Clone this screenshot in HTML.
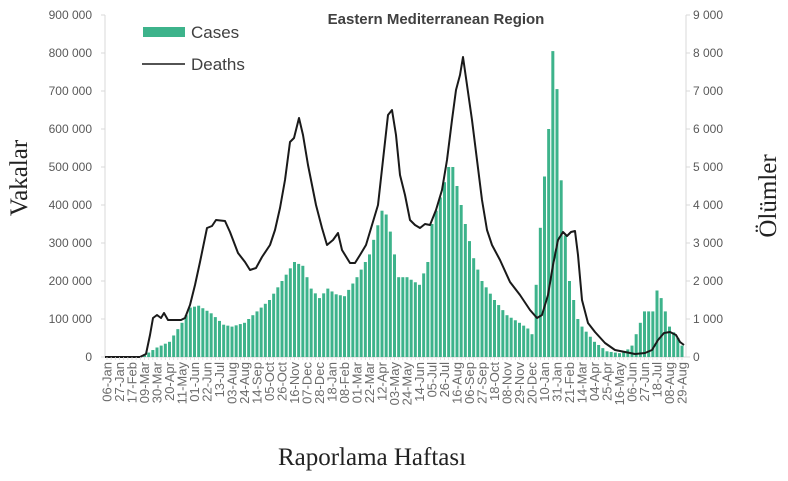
<!DOCTYPE html>
<html><head><meta charset="utf-8"><style>
body{margin:0;background:#fff;}
svg{display:block;font-family:"Liberation Sans",sans-serif;}
</style></head><body>
<svg id="s" width="788" height="481" xmlns="http://www.w3.org/2000/svg">
<line x1="105" y1="15" x2="105" y2="357" stroke="#d9d9d9" stroke-width="1"/>
<line x1="686" y1="15" x2="686" y2="357" stroke="#d9d9d9" stroke-width="1"/>
<line x1="105" y1="357" x2="686" y2="357" stroke="#d9d9d9" stroke-width="1"/>
<g id="ticks" font-size="12" fill="#595959"></g>
<g id="bars" fill="#3db38b"></g>
<polyline id="deaths" fill="none" stroke="#1a1a1a" stroke-width="2" stroke-linejoin="round"/>
<g id="xl" font-size="13" fill="#6b6b6b"></g>
<text x="436" y="24" text-anchor="middle" font-size="15" font-weight="bold" fill="#404040">Eastern Mediterranean Region</text>
<rect x="143" y="27" width="42" height="10" fill="#3db38b"/>
<text x="191" y="38" font-size="17" fill="#404040">Cases</text>
<line x1="142" y1="64" x2="185" y2="64" stroke="#1a1a1a" stroke-width="1.5"/>
<text x="191" y="70" font-size="17" fill="#404040">Deaths</text>
<text transform="translate(27,178) rotate(-90)" text-anchor="middle" font-family="Liberation Serif,serif" font-size="25" fill="#222">Vakalar</text>
<text transform="translate(776,196) rotate(-90)" text-anchor="middle" font-family="Liberation Serif,serif" font-size="25" fill="#222">Ölümler</text>
<text x="372" y="465" text-anchor="middle" font-family="Liberation Serif,serif" font-size="25" fill="#222">Raporlama Haftası</text>
</svg>
<script>
var NS="http://www.w3.org/2000/svg";
function el(t,a,p,txt){var e=document.createElementNS(NS,t);for(var k in a)e.setAttribute(k,a[k]);if(txt!==undefined)e.textContent=txt;p.appendChild(e);return e;}
var tk=document.getElementById("ticks");
for(var i=0;i<=9;i++){var y=357-i*38;
 el("text",{x:92,y:y+4,"text-anchor":"end"},tk,i==0?"0":(i*100)+" 000");
 el("text",{x:693,y:y+4},tk,i==0?"0":i+" 000");
 el("line",{x1:101,y1:y,x2:105,y2:y,stroke:"#d9d9d9"},tk);
 el("line",{x1:686,y1:y,x2:690,y2:y,stroke:"#d9d9d9"},tk);}
var N=139,x0=107,dx=(682-107)/138;
function interp(kp,i){for(var j=0;j<kp.length-1;j++){if(i>=kp[j][0]&&i<=kp[j+1][0]){var t=(i-kp[j][0])/((kp[j+1][0]-kp[j][0])||1);return kp[j][1]+t*(kp[j+1][1]-kp[j][1]);}}return 0;}
var ck=[[0,0],[8,0],[9,5],[12,25],[15,40],[18,90],[20,130],[22,135],[25,115],[28,85],[30,80],[33,90],[36,120],[39,150],[42,200],[45,250],[47,240],[49,180],[51,155],[53,180],[55,165],[57,160],[60,210],[63,270],[66,385],[67,375],[68,330],[70,210],[72,210],[75,190],[77,250],[78,350],[80,420],[82,500],[83,500],[84,450],[86,350],[88,260],[90,200],[93,150],[96,110],[99,90],[101,75],[102,60],[103,190],[104,340],[105,475],[106,600],[107,805],[108,705],[109,465],[110,320],[111,200],[113,100],[114,80],[117,40],[120,15],[123,10],[125,20],[126,30],[128,90],[129,120],[131,120],[132,175],[133,155],[134,120],[135,80],[137,50],[138,30]];
var bg=document.getElementById("bars");
for(var i=0;i<N;i++){var v=interp(ck,i);var h=v*0.38;if(h>0.3)el("rect",{x:(x0+i*dx-1.5).toFixed(2),y:(357-h).toFixed(2),width:3,height:h.toFixed(2)},bg);}
var dk=[[105,357],[140,357],[146,354],[150,335],[153,318],[157,315],[161,318],[164,313],[168,320],[175,320],[181,320],[185,318],[190,305],[195,285],[200,262],[207,228],[212,226],[216,220],[225,221],[230,232],[238,253],[245,262],[250,270],[256,268],[262,257],[270,245],[275,230],[280,208],[285,180],[290,142],[294,138],[299,118],[303,135],[308,165],[316,205],[322,228],[327,245],[333,240],[338,233],[342,250],[350,263],[355,263],[360,255],[366,245],[372,225],[378,205],[383,160],[388,115],[392,110],[396,135],[400,175],[405,195],[410,220],[415,225],[420,228],[425,224],[430,225],[436,210],[442,190],[447,160],[452,120],[456,90],[460,75],[463,57],[467,85],[472,120],[477,160],[482,200],[487,230],[492,245],[500,260],[510,282],[520,295],[530,310],[537,318],[542,315],[548,295],[553,265],[558,240],[563,232],[567,236],[571,232],[575,231],[578,255],[582,300],[588,323],[595,332],[605,343],[615,350],[625,352],[635,354],[645,353],[652,350],[658,340],[664,333],[670,332],[676,335],[680,342],[684,345]];
document.getElementById("deaths").setAttribute("points",dk.map(function(p){return p.join(",")}).join(" "));
var labs=["06-Jan","27-Jan","17-Feb","09-Mar","30-Mar","20-Apr","11-May","01-Jun","22-Jun","13-Jul","03-Aug","24-Aug","14-Sep","05-Oct","26-Oct","16-Nov","07-Dec","28-Dec","18-Jan","08-Feb","01-Mar","22-Mar","12-Apr","03-May","24-May","14-Jun","05-Jul","26-Jul","16-Aug","06-Sep","27-Sep","18-Oct","08-Nov","29-Nov","20-Dec","10-Jan","31-Jan","21-Feb","14-Mar","04-Apr","25-Apr","16-May","06-Jun","27-Jun","18-Jul","08-Aug","29-Aug"];
var xl=document.getElementById("xl");
for(var k=0;k<labs.length;k++){var x=x0+k*3*dx;
 el("text",{transform:"translate("+(x+4.5).toFixed(2)+",362) rotate(-90)","text-anchor":"end"},xl,labs[k]);}
for(var i=0;i<N;i++){var x=x0+i*dx;el("line",{x1:x,y1:357,x2:x,y2:360,stroke:"#d9d9d9","stroke-width":0.8},xl);}
</script>
</body></html>
